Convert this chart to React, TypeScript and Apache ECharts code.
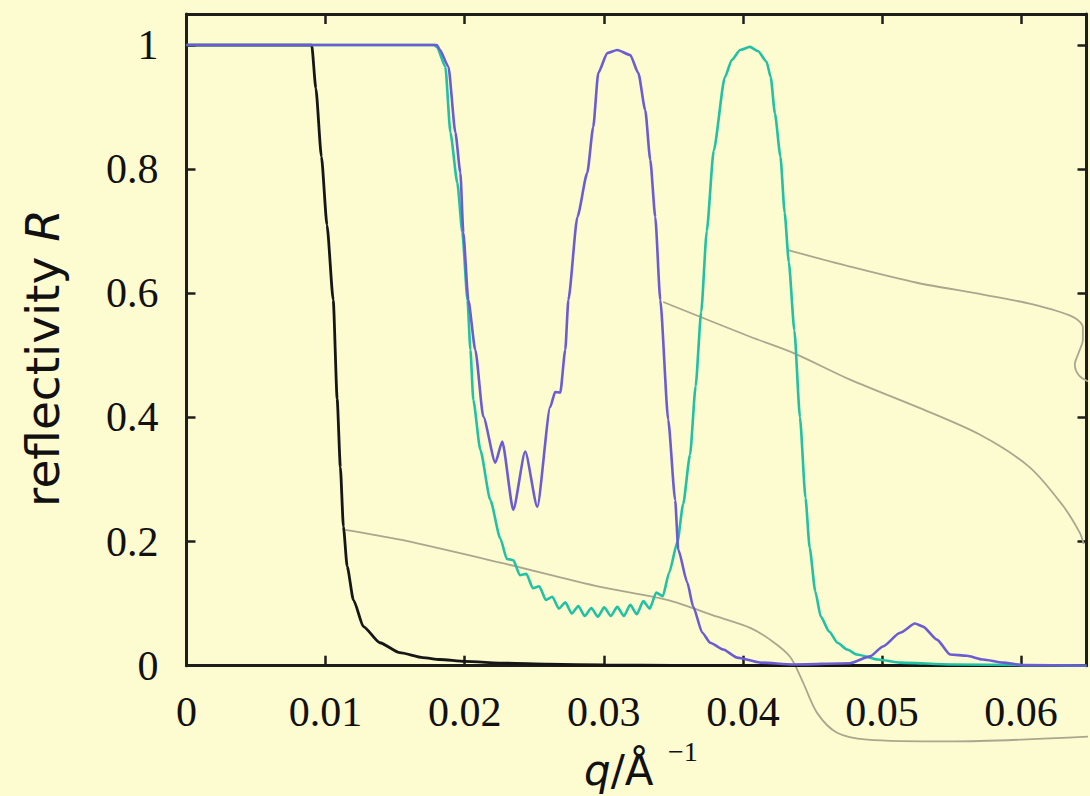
import React, { useEffect, useRef } from "react";
import * as echarts from "echarts";

// q in 1/Å, R reflectivity
const blackCurve: [number, number][] = [
  [0, 1], [0.009, 1], [0.0093, 0.93], [0.0097, 0.82], [0.0101, 0.71], [0.01055, 0.589],
  [0.01083, 0.43], [0.01106, 0.32], [0.01128, 0.224], [0.01155, 0.16], [0.012, 0.106],
  [0.01272, 0.063], [0.0139, 0.037], [0.01534, 0.021], [0.01699, 0.013], [0.01821, 0.01],
  [0.02, 0.007], [0.023, 0.004], [0.026, 0.0025], [0.03, 0.0012], [0.035, 0.0006],
  [0.045, 0.0002], [0.0647, 0],
];

const blueCurve: [number, number][] = [
  [0, 1], [0.018, 1], [0.01822, 0.992], [0.01883, 0.965], [0.01933, 0.859], [0.01969, 0.794],
  [0.0199, 0.698], [0.02026, 0.589], [0.02076, 0.509], [0.02134, 0.401], [0.0222, 0.327],
  [0.0227, 0.361], [0.02349, 0.251], [0.02435, 0.345], [0.02522, 0.256], [0.02615, 0.417],
  [0.0265, 0.441], [0.02687, 0.44], [0.02723, 0.509], [0.02745, 0.589], [0.0281, 0.723],
  [0.02881, 0.794], [0.02924, 0.868], [0.0296, 0.955], [0.03025, 0.987], [0.03097, 0.992],
  [0.0319, 0.984], [0.03248, 0.955], [0.03298, 0.895], [0.03334, 0.815], [0.0337, 0.723],
  [0.03406, 0.589], [0.03463, 0.396], [0.03513, 0.267], [0.03535, 0.187], [0.036, 0.134],
  [0.03643, 0.095], [0.03708, 0.053], [0.03765, 0.037], [0.03859, 0.026], [0.03959, 0.013],
  [0.04124, 0.005], [0.04361, 0.002], [0.0477, 0.004], [0.04914, 0.015], [0.05007, 0.031],
  [0.0513, 0.053], [0.05237, 0.068], [0.05295, 0.063], [0.05395, 0.042], [0.05489, 0.018],
  [0.0561, 0.016], [0.05726, 0.01], [0.0587, 0.005], [0.06013, 0.001], [0.0647, 0],
];

const tealCurve: [number, number][] = [
  [0, 1], [0.0178, 1], [0.018, 0.997], [0.01861, 0.965], [0.01897, 0.859], [0.01947, 0.778],
  [0.01983, 0.698], [0.0202, 0.589], [0.02041, 0.509], [0.02062, 0.428], [0.02112, 0.348],
  [0.02184, 0.267], [0.02256, 0.205], [0.02303, 0.172], [0.0235, 0.17], [0.02396, 0.146],
  [0.02443, 0.148], [0.0249, 0.125], [0.02536, 0.128], [0.02583, 0.106], [0.0263, 0.111],
  [0.02677, 0.092], [0.02723, 0.102], [0.0277, 0.084], [0.02817, 0.096], [0.02863, 0.08],
  [0.0291, 0.093], [0.02957, 0.079], [0.03003, 0.094], [0.0305, 0.08], [0.03097, 0.095],
  [0.03144, 0.08], [0.0319, 0.098], [0.03237, 0.083], [0.03284, 0.104], [0.0333, 0.092],
  [0.03377, 0.118], [0.03424, 0.112], [0.0347, 0.15], [0.0353, 0.2], [0.0357, 0.26],
  [0.0362, 0.34], [0.0366, 0.45], [0.0370, 0.57], [0.0374, 0.7], [0.0379, 0.83],
  [0.0387, 0.948], [0.0392, 0.976], [0.0398, 0.992], [0.0405, 0.997], [0.0411, 0.99],
  [0.0417, 0.973], [0.042, 0.948], [0.0423, 0.89], [0.0427, 0.82], [0.043, 0.73],
  [0.0433, 0.65], [0.0437, 0.54], [0.0441, 0.4], [0.0445, 0.27], [0.0448, 0.19],
  [0.0452, 0.12], [0.0456, 0.079], [0.0462, 0.055], [0.0468, 0.037], [0.0475, 0.026],
  [0.0482, 0.018], [0.0497, 0.01], [0.0513, 0.005], [0.055, 0.002], [0.06, 0.001], [0.0647, 0],
];

// leader lines running out of the frame
const leaderA: [number, number][] = [
  [0.01142, 0.219], [0.01537, 0.203], [0.02256, 0.166], [0.02974, 0.127], [0.03455, 0.106],
  [0.03815, 0.079], [0.04052, 0.061], [0.04195, 0.042], [0.04339, 0.0145], [0.04432, -0.027],
  [0.04533, -0.076], [0.04677, -0.108], [0.04892, -0.119], [0.05489, -0.122], [0.06494, -0.114],
];
const leaderB: [number, number][] = [
  [0.03427, 0.586], [0.04052, 0.53], [0.04361, 0.504], [0.0477, 0.461], [0.05251, 0.417],
  [0.05705, 0.372], [0.0606, 0.32], [0.063, 0.258], [0.06422, 0.214], [0.0645, 0.196],
];
const leaderC: [number, number][] = [
  [0.04318, 0.67], [0.0477, 0.643], [0.05251, 0.617], [0.05726, 0.598], [0.06085, 0.582],
  [0.06372, 0.562], [0.06444, 0.545], [0.06444, 0.525], [0.06415, 0.505], [0.06386, 0.485],
  [0.06415, 0.468], [0.0648, 0.458],
];

const X_MIN = 0;
const X_MAX = 0.0647;
const X_STEP = 0.01;
const Y_MIN = 0;
const Y_MAX = 1.05;
const Y_STEP = 0.2;

const BG = "#fdfbd0";
const AXIS = "#1e1e1a";
const TICK_FONT = "'Liberation Serif', 'DejaVu Serif', serif";
const LABEL_FONT = "'DejaVu Sans', sans-serif";

export default function App() {
  const ref = useRef<HTMLDivElement>(null);
  useEffect(() => {
    document.body.style.margin = "0";
    document.body.style.background = BG;
    const chart = echarts.init(ref.current!, null, { renderer: "svg" });
    const axisLine = { show: true, onZero: false, lineStyle: { color: AXIS, width: 3 } };
    const tick = (len: number) => ({ show: true, inside: true, length: len, lineStyle: { color: AXIS, width: 2.5 } });
    const lineSeries = (data: [number, number][], color: string, width: number, extra: any = {}) => ({
      type: "line",
      data,
      showSymbol: false,
      symbol: "none",
      clip: false,
      lineStyle: { color, width },
      ...extra,
    });
    chart.setOption({
      animation: false,
      backgroundColor: BG,
      grid: { left: 186.5, top: 14, right: 3.5, bottom: 130.3, containLabel: false },
      xAxis: [
        {
          type: "value", min: X_MIN, max: X_MAX, interval: X_STEP, position: "bottom",
          axisLine, axisTick: tick(10), splitLine: { show: false },
          axisLabel: { show: true, margin: 25, fontFamily: TICK_FONT, fontSize: 42, color: "#111", showMaxLabel: false },
        },
        {
          type: "value", min: X_MIN, max: X_MAX, interval: X_STEP, position: "top",
          axisLine, axisTick: tick(10), splitLine: { show: false }, axisLabel: { show: false },
        },
      ],
      yAxis: [
        {
          type: "value", min: Y_MIN, max: Y_MAX, interval: Y_STEP, position: "left",
          axisLine, axisTick: tick(9), splitLine: { show: false },
          axisLabel: { show: true, margin: 28, fontFamily: TICK_FONT, fontSize: 42, color: "#111", showMaxLabel: false },
        },
        {
          type: "value", min: Y_MIN, max: Y_MAX, interval: Y_STEP, position: "right",
          axisLine, axisTick: tick(9), splitLine: { show: false }, axisLabel: { show: false },
        },
      ],
      series: [
        lineSeries(leaderA, "#a9a78e", 1.8, { smooth: 0.3 }),
        lineSeries(leaderB, "#a9a78e", 1.8, { smooth: 0.3 }),
        lineSeries(leaderC, "#a9a78e", 1.8, { smooth: 0.3 }),
        lineSeries(blackCurve, "#161616", 2.8, { smooth: 0.2, smoothMonotone: "x" }),
        lineSeries(tealCurve, "#22c0a5", 2.6, { smooth: 0.2, smoothMonotone: "x" }),
        lineSeries(blueCurve, "#6b5cd3", 2.6, { smooth: 0.2, smoothMonotone: "x" }),
      ],
      graphic: [
        {
          type: "text",
          x: 42,
          y: 358,
          rotation: Math.PI / 2,
          style: {
            text: "reflectivity {i|R}",
            font: `47px ${LABEL_FONT}`,
            fill: "#111",
            align: "center",
            verticalAlign: "middle",
            rich: { i: { fontStyle: "italic", fontSize: 47, fontFamily: LABEL_FONT, fill: "#111" } },
          },
        },
        {
          type: "text",
          x: 584,
          y: 770,
          style: {
            text: "{i|q}/Å",
            font: `42px ${LABEL_FONT}`,
            fill: "#111",
            align: "left",
            verticalAlign: "middle",
            rich: { i: { fontStyle: "italic", fontSize: 42, fontFamily: LABEL_FONT, fill: "#111" } },
          },
        },
        {
          type: "text",
          x: 668,
          y: 751,
          style: {
            text: "−1",
            font: `28px ${TICK_FONT}`,
            fill: "#111",
            align: "left",
            verticalAlign: "middle",
          },
        },
      ],
    });
    return () => chart.dispose();
  }, []);
  return <div ref={ref} style={{ width: 1090, height: 796 }} />;
}
